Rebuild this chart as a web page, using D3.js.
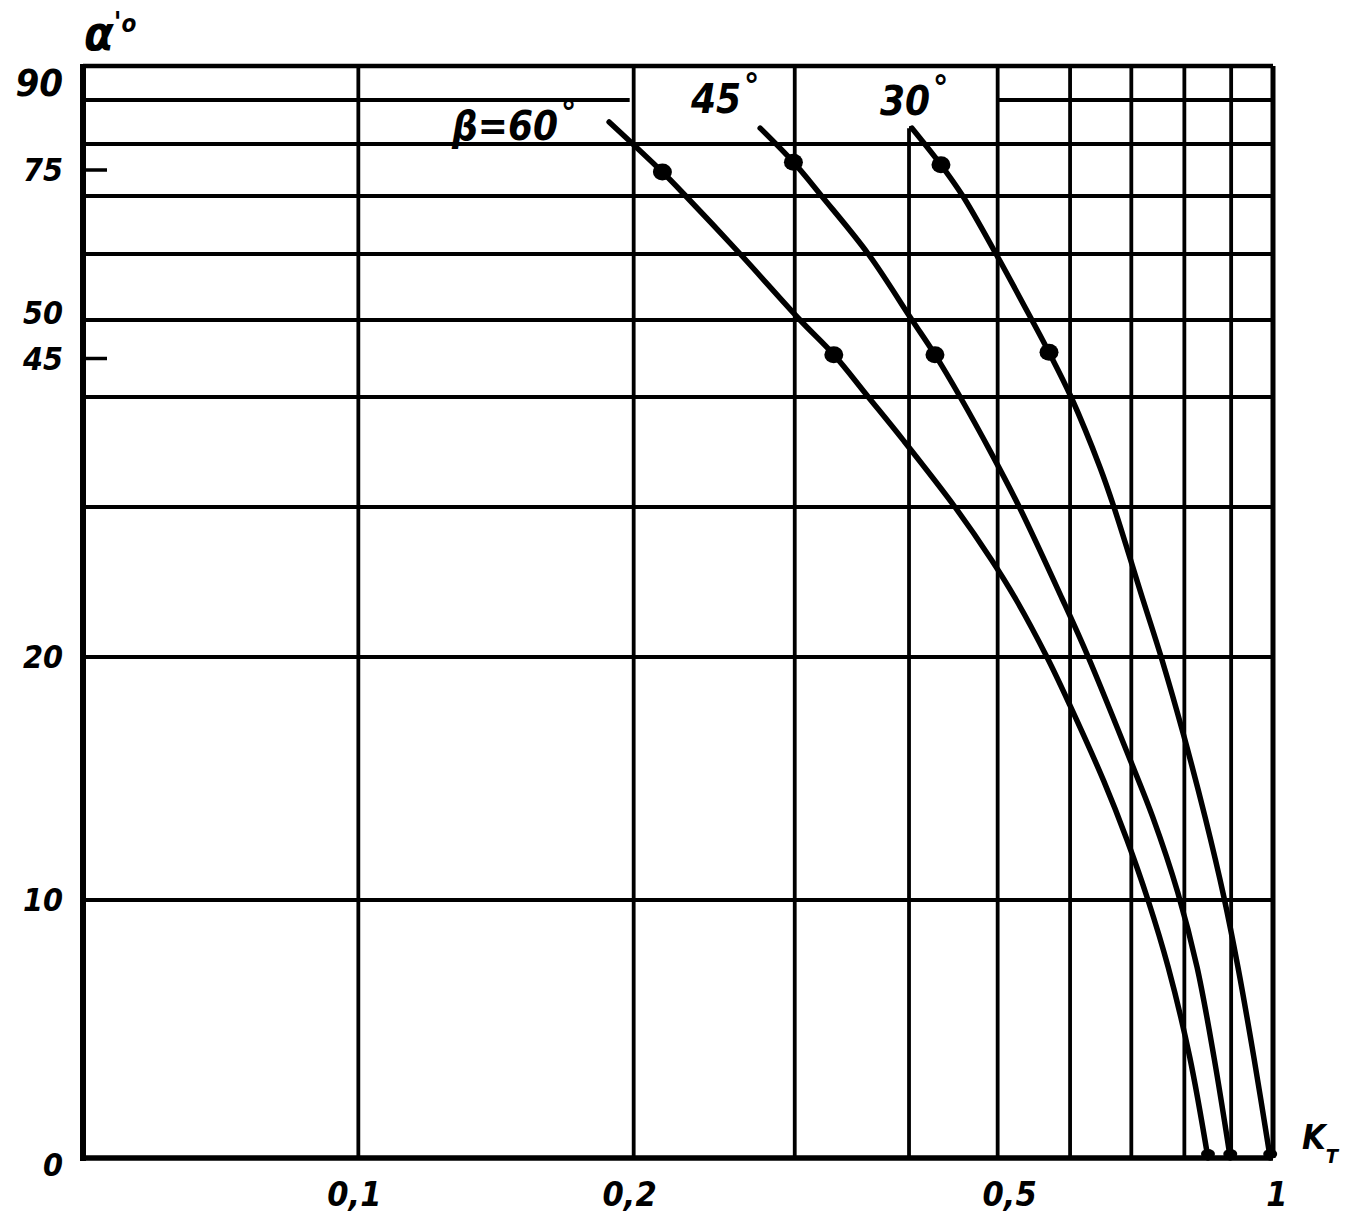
<!DOCTYPE html>
<html>
<head>
<meta charset="utf-8">
<script src="https://cdn.jsdelivr.net/npm/d3@7"></script>
<style>
  html, body { margin: 0; padding: 0; background: #fff; }
  svg { display: block; }
  text { font-family: "Liberation Sans Narrow", "DejaVu Sans", sans-serif; font-stretch: condensed; font-style: italic; font-weight: bold; fill: #000; }
</style>
</head>
<body>
<svg id="chart" width="1359" height="1223"></svg>
<script>
// ---- data (K_T, alpha' in degrees) ----
const seriesNames = ["β=60°", "45°", "30°"];
const beta60 = [[0.188,85],[0.215,74.6],[0.228,70],[0.2615,60],[0.304,50],[0.331,45.5],[0.361,40],[0.394,36.1],[0.449,30],[0.492,26.5],[0.524,23.8],[0.566,20],[0.600,18],[0.653,14.9],[0.692,12.5],[0.730,10],[0.768,7.4],[0.811,3.9],[0.849,0]];
const beta45 = [[0.275,83.6],[0.299,76.5],[0.321,70],[0.361,60],[0.403,50],[0.427,45.5],[0.455,40],[0.492,34.9],[0.528,30],[0.589,23.8],[0.628,20],[0.694,16.0],[0.739,13.4],[0.787,10.3],[0.826,7.4],[0.862,3.9],[0.898,0]];
const beta30 = [[0.403,83.6],[0.4335,76.0],[0.458,70],[0.498,60],[0.545,50],[0.569,45.8],[0.6015,40],[0.647,33.6],[0.670,30],[0.721,23.8],[0.756,19.9],[0.797,16.9],[0.843,13.4],[0.884,10.1],[0.9155,7.4],[0.953,3.9],[0.993,0]];
const markers60 = [[0.215,74.6],[0.331,45.5]];
const markers45 = [[0.299,76.5],[0.427,45.5]];
const markers30 = [[0.4335,76.0],[0.569,45.8]];
const endPoints = [[0.849,0],[0.898,0],[0.993,0]];

const xGridValues = [0.1,0.2,0.3,0.5,0.6,0.7,0.8,0.9];
const xTickLabels = [[0.1,"0,1"],[0.2,"0,2"],[0.5,"0,5"],[1,"1"]];
const yGridValues = [10,20,30,40,50,60,70,80];
const yTickMarks = [45,75];
const yTickLabels = [[90,"90"],[75,"75"],[50,"50"],[45,"45"],[20,"20"],[10,"10"],[0,"0"]];
const yBreaks = [0,10,20,30,40,50,60,70,80,90];

// ---- scales ----
const x = d3.scaleLog().domain([0.05, 1]).range([83, 1273]);
const y = d3.scaleLinear().domain(yBreaks)
  .range([1158, 900, 657, 507, 397, 320, 254, 196, 144, 100]);
const frameTop = 66;

const svg = d3.select("#chart");
const g = svg.append("g");
const GW = 3.8;

// grid: horizontal
g.selectAll("line.hgrid").data(yGridValues).join("line")
  .attr("x1", x(0.05)).attr("x2", x(1))
  .attr("y1", d => y(d)).attr("y2", d => y(d))
  .attr("stroke", "#000").attr("stroke-width", GW);
// 90° line split around the curve labels
g.append("line").attr("x1", x(0.05)).attr("x2", x(0.2) - 4).attr("y1", y(90)).attr("y2", y(90))
  .attr("stroke", "#000").attr("stroke-width", GW);
g.append("line").attr("x1", x(0.5)).attr("x2", x(1)).attr("y1", y(90)).attr("y2", y(90))
  .attr("stroke", "#000").attr("stroke-width", GW);

// grid: vertical
g.selectAll("line.vgrid").data(xGridValues).join("line")
  .attr("x1", d => x(d)).attr("x2", d => x(d))
  .attr("y1", y(0)).attr("y2", frameTop)
  .attr("stroke", "#000").attr("stroke-width", GW);
// 0.4 line ends where the 30° curve starts
g.append("line").attr("x1", x(0.4)).attr("x2", x(0.4))
  .attr("y1", y(0)).attr("y2", y(beta30[0][1]))
  .attr("stroke", "#000").attr("stroke-width", GW);
g.append("line").attr("x1", x(0.4)).attr("x2", x(beta30[0][0]))
  .attr("y1", y(beta30[0][1])).attr("y2", y(beta30[0][1]))
  .attr("stroke", "#000").attr("stroke-width", 4);

// frame
g.append("line").attr("x1", x(0.05)).attr("x2", x(1)).attr("y1", frameTop).attr("y2", frameTop)
  .attr("stroke", "#000").attr("stroke-width", 4.5);
g.append("line").attr("x1", x(1)).attr("x2", x(1)).attr("y1", frameTop).attr("y2", y(0))
  .attr("stroke", "#000").attr("stroke-width", 5);
g.append("line").attr("x1", x(0.05)).attr("x2", x(1)).attr("y1", y(0)).attr("y2", y(0))
  .attr("stroke", "#000").attr("stroke-width", 5.5);
g.append("line").attr("x1", x(0.05)).attr("x2", x(0.05)).attr("y1", frameTop - 2).attr("y2", y(0) + 3)
  .attr("stroke", "#000").attr("stroke-width", 6);

// extra tick marks on the alpha axis
g.selectAll("line.ytick").data(yTickMarks).join("line")
  .attr("x1", x(0.05)).attr("x2", x(0.05) + 24)
  .attr("y1", d => y(d)).attr("y2", d => y(d))
  .attr("stroke", "#000").attr("stroke-width", 3.5);

// curves
const line = d3.line().x(d => x(d[0])).y(d => y(d[1])).curve(d3.curveCatmullRom.alpha(0.5));
[beta60, beta45, beta30].forEach(s => {
  g.append("path").attr("d", line(s)).attr("fill", "none")
    .attr("stroke", "#000").attr("stroke-width", 5.5).attr("stroke-linecap", "round");
});

// markers
[markers60, markers45, markers30].forEach(m => {
  g.selectAll(null).data(m).join("ellipse")
    .attr("cx", d => x(d[0])).attr("cy", d => y(d[1]))
    .attr("rx", 9.5).attr("ry", 8.5).attr("fill", "#000");
});
g.selectAll(null).data(endPoints).join("ellipse")
  .attr("cx", d => x(d[0])).attr("cy", d => y(d[1]) - 4)
  .attr("rx", 7).attr("ry", 5).attr("fill", "#000");

// y labels
const yLabelOffset = {90: -17, 50: -7, 0: 7};
g.selectAll("text.ylab").data(yTickLabels).join("text")
  .attr("x", 63).attr("y", d => y(d[0]) + (yLabelOffset[d[0]] || 0))
  .attr("text-anchor", "end").attr("dominant-baseline", "central")
  .attr("font-size", d => d[0] === 90 ? 38 : 32)
  .text(d => d[1]);

// x labels
g.selectAll("text.xlab").data(xTickLabels).join("text")
  .attr("x", d => x(d[0]) + (d[0] === 1 ? 4 : (d[0] === 0.5 ? 12 : -4)))
  .attr("y", 1206)
  .attr("text-anchor", "middle").attr("font-size", 34)
  .text(d => d[1]);

// axis titles
const at = g.append("text").attr("x", 84).attr("y", 50).attr("font-size", 48).attr("font-weight", "normal");
at.append("tspan").text("α");
at.append("tspan").attr("font-size", 28).attr("font-weight", "bold").attr("dy", -18).text("'");
at.append("tspan").attr("font-size", 24).attr("font-weight", "bold").attr("dy", 0).text("o");

const kt = g.append("text").attr("x", 1302).attr("y", 1149).attr("font-size", 34);
kt.append("tspan").text("K");
kt.append("tspan").attr("font-size", 20).attr("dy", 14).text("T");

// curve labels
function degLabel(txt, px, py, size) {
  const t = g.append("text").attr("x", px).attr("y", py).attr("font-size", size);
  t.append("tspan").text(txt);
  t.append("tspan").attr("font-size", size * 0.85).attr("dx", 3).attr("dy", -size * 0.4).text("°");
}
degLabel(seriesNames[0].replace("°", ""), 452, 140, 40);
degLabel(seriesNames[1].replace("°", ""), 691, 113, 40);
degLabel(seriesNames[2].replace("°", ""), 880, 115, 40);
</script>
</body>
</html>
